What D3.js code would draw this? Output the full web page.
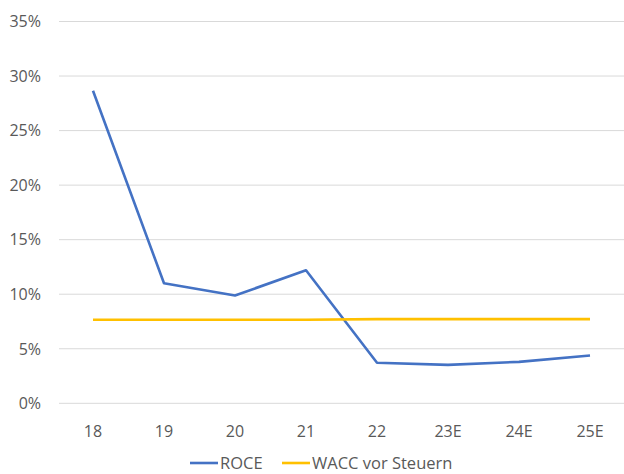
<!DOCTYPE html>
<html><head><meta charset="utf-8">
<script src="https://cdn.jsdelivr.net/npm/d3@7"></script>
<style>body{margin:0;background:#fff}svg{display:block}text{font-family:"Open Sans","Noto Sans",sans-serif;fill:#595959}</style>
</head><body><svg id="c" width="624" height="474"></svg>
<script>
const categories = ["18","19","20","21","22","23E","24E","25E"];
const roce = [28.65, 11.0, 9.88, 12.2, 3.72, 3.52, 3.8, 4.38];
const wacc = [7.66, 7.66, 7.66, 7.66, 7.72, 7.72, 7.72, 7.72];
const yTicks = [0,5,10,15,20,25,30,35];
const seriesNames = ["ROCE","WACC vor Steuern"];
const colors = ["#4472C4","#FFC000"];

const svg = d3.select("#c");
const x = d3.scaleBand().domain(categories).range([57.5, 625.5]);
const y = d3.scaleLinear().domain([0,35]).range([403.3, 21.5]);

const gy = svg.append("g");
gy.selectAll("line").data(yTicks).join("line")
  .attr("x1",59).attr("x2",624).attr("y1",d=>y(d)).attr("y2",d=>y(d))
  .attr("stroke","#d9d9d9").attr("stroke-width",1);
gy.selectAll("text").data(yTicks).join("text")
  .attr("x",41).attr("y",d=>y(d)).attr("dy","0.36em").attr("text-anchor","end")
  .attr("font-size",16).text(d=>d+"%");

svg.append("g").selectAll("text").data(categories).join("text")
  .attr("x",d=>x(d)+x.bandwidth()/2).attr("y",437).attr("text-anchor","middle")
  .attr("font-size",16).text(d=>d);

const line = d3.line().x((d,i)=>x(categories[i])+x.bandwidth()/2).y(d=>y(d));
[roce,wacc].forEach((s,k)=>{
  svg.append("path").datum(s).attr("d",line).attr("fill","none")
    .attr("stroke",colors[k]).attr("stroke-width",2.6).attr("stroke-linejoin","round");
});

const lg = [{x:190,tx:220},{x:282,tx:312}];
seriesNames.forEach((n,k)=>{
  svg.append("line").attr("x1",lg[k].x).attr("x2",lg[k].x+28).attr("y1",463).attr("y2",463)
    .attr("stroke",colors[k]).attr("stroke-width",2.6);
  svg.append("text").attr("x",lg[k].tx).attr("y",463).attr("dy","0.36em").attr("font-size",16.5).text(n);
});
</script></body></html>
